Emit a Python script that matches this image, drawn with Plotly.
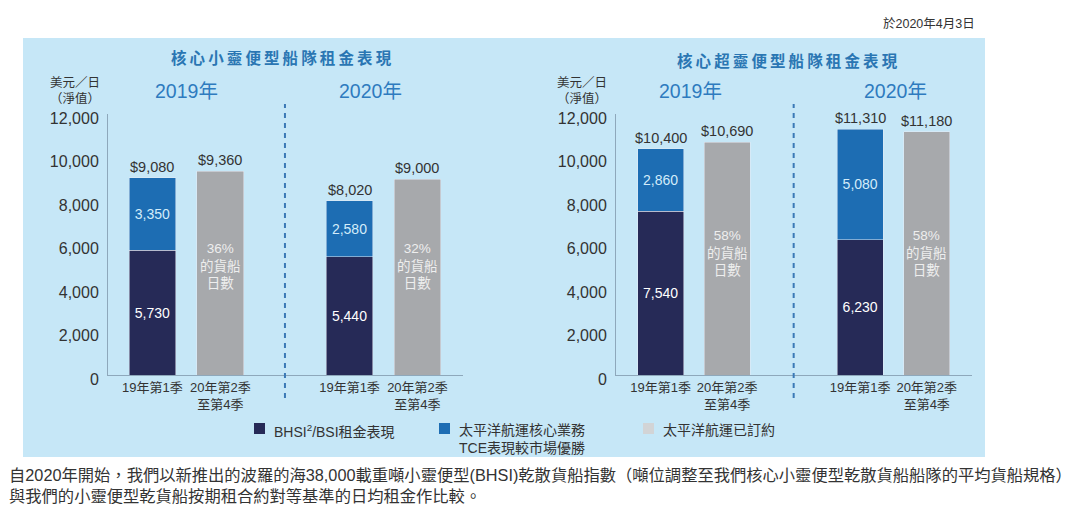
import plotly.graph_objects as go

# data (US$/day, net)
periods = ["19年第1季", "20年第2季<br>至第4季"]
years = ["2019年", "2020年"]

small_bhsi = [5730, 5440]          # BHSI/BSI market rate
small_outperf = [3350, 2580]       # Pacific Basin outperformance
small_booked = [9360, 9000]        # Pacific Basin booked
small_booked_pct = ["36%", "32%"]

super_bhsi = [7540, 6230]
super_outperf = [2860, 5080]
super_booked = [10690, 11180]
super_booked_pct = ["58%", "58%"]

series_names = ["BHSI<sup>2</sup>/BSI租金表現",
                "太平洋航運核心業務<br>TCE表現較市場優勝",
                "太平洋航運已訂約"]
panel_titles = ["核心小靈便型船隊租金表現", "核心超靈便型船隊租金表現"]

NAVY = "#262a57"
BLUE = "#1d6db3"
GREY = "#a7a9ac"
BG = "#c6e7f7"
TXT = "#333333"
FONT = "Liberation Sans, Noto Sans CJK TC, sans-serif"
W, H = 1080, 521
OFF = 8  # the page body adds an 8px margin, so pull everything back by that much


def px(x):
    return (x - OFF) / W


def py(y):
    return 1 - (y - OFF) / H


def spaced(s):
    return "\u2009".join(s)


fig = go.Figure()

panels = [
    dict(bhsi=small_bhsi, out=small_outperf, booked=small_booked, pct=small_booked_pct,
         xa="x", ya="y", gap=1.9, rng=[-0.654, 4.57], dom=[108, 463],
         title_x=281, title_y=58, year_shift=[0, -13], unit_x=102, label_y=5000),
    dict(bhsi=super_bhsi, out=super_outperf, booked=super_booked, pct=super_booked_pct,
         xa="x2", ya="y2", gap=2.0, rng=[-0.67, 4.68], dom=[616, 972],
         title_x=787, title_y=61, year_shift=[-3, 2], unit_x=609, label_y=5600),
]

shapes = [dict(type="rect", xref="paper", yref="paper", layer="below",
               x0=px(23), x1=px(985), y0=py(457), y1=py(38),
               fillcolor=BG, line=dict(width=0))]
annotations = []

for i, p in enumerate(panels):
    g = p["gap"]
    pos_a = [0, 1 + g]        # first bar of each year
    pos_b = [1, 2 + g]        # second bar of each year
    totals = [a + b for a, b in zip(p["bhsi"], p["out"])]

    fig.add_trace(go.Bar(x=pos_a, y=p["bhsi"], xaxis=p["xa"], yaxis=p["ya"],
                         marker_color=NAVY, width=0.69, name=series_names[0],
                         text=[f"{v:,}" for v in p["bhsi"]], textposition="inside",
                         insidetextanchor="middle", constraintext="none",
                         textfont=dict(color="white", size=14), hoverinfo="y"))
    fig.add_trace(go.Bar(x=pos_a, y=p["out"], xaxis=p["xa"], yaxis=p["ya"],
                         marker_color=BLUE, width=0.69, name=series_names[1],
                         text=[f"{v:,}" for v in p["out"]], textposition="inside",
                         insidetextanchor="middle", constraintext="none",
                         textfont=dict(color="#d3ecfa", size=14), hoverinfo="y"))
    fig.add_trace(go.Bar(x=pos_b, y=p["booked"], xaxis=p["xa"], yaxis=p["ya"],
                         marker_color=GREY, width=0.69, name=series_names[2],
                         textposition="none", hoverinfo="y"))

    # grey bar captions
    for xv, pc in zip(pos_b, p["pct"]):
        annotations.append(dict(xref=p["xa"], yref=p["ya"], x=xv, y=p["label_y"],
                                xanchor="center", yanchor="middle",
                                text=f"{pc}<br>的貨船<br>日數", showarrow=False,
                                font=dict(color="#eeeeee", size=13.5)))

    # totals above bars
    for xv, v in zip(pos_a + pos_b, totals + p["booked"]):
        annotations.append(dict(xref=p["xa"], yref=p["ya"], x=xv, y=v,
                                text=f"${v:,}", showarrow=False,
                                xanchor="center", yanchor="bottom",
                                yshift=1, font=dict(color=TXT, size=14.5)))

    # year headings
    for k, yr in enumerate(years):
        annotations.append(dict(xref=p["xa"], yref="paper",
                                x=(pos_a[k] + pos_b[k]) / 2, y=py(91),
                                xanchor="center", yanchor="middle",
                                xshift=p["year_shift"][k], text=yr, showarrow=False,
                                font=dict(color="#2e7bbf", size=19.5)))

    # panel title
    annotations.append(dict(xref="paper", yref="paper", x=px(p["title_x"]), y=py(p["title_y"]),
                            xanchor="center", yanchor="middle",
                            text="<b>" + spaced(panel_titles[i]) + "</b>", showarrow=False,
                            font=dict(color="#2a76b3", size=15.5)))

    # unit label
    annotations.append(dict(xref="paper", yref="paper", x=px(p["unit_x"]), y=py(91),
                            xanchor="right", yanchor="middle", align="right",
                            text="美元／日<br>（淨值）",
                            showarrow=False, font=dict(color=TXT, size=12.5)))

    # dashed year divider
    mid = (pos_b[0] + pos_a[1]) / 2
    shapes.append(dict(type="line", xref=p["xa"], yref="paper", x0=mid, x1=mid,
                       y0=py(398), y1=py(104),
                       line=dict(color="#3b79b6", width=2, dash="5px,5px")))

    axis_x = dict(domain=[px(p["dom"][0]), px(p["dom"][1])], range=p["rng"],
                  tickvals=[pos_a[0], pos_b[0], pos_a[1], pos_b[1]],
                  ticktext=periods * 2, showline=True, linecolor="#8ea8bb",
                  showgrid=False, zeroline=False, ticks="", automargin=False,
                  tickfont=dict(color=TXT, size=13), fixedrange=True)
    axis_y = dict(domain=[py(375), py(114)], range=[0, 12000], dtick=2000,
                  tickformat=",", showline=True, linecolor="#8ea8bb",
                  showgrid=False, zeroline=False, ticks="", automargin=False,
                  ticklabelstandoff=5, ticklabelshift=4,
                  tickfont=dict(color=TXT, size=16), fixedrange=True)
    if i == 0:
        fig.update_layout(xaxis=dict(axis_x, anchor="y"), yaxis=dict(axis_y, anchor="x"))
    else:
        fig.update_layout(xaxis2=dict(axis_x, anchor="y2"), yaxis2=dict(axis_y, anchor="x2"))

# hand-made legend
legend_x = [254, 439, 643]
for name, color, lx in zip(series_names, [NAVY, BLUE, "#d2d4d6"], legend_x):
    shapes.append(dict(type="rect", xref="paper", yref="paper",
                       x0=px(lx), x1=px(lx + 11), y0=py(434), y1=py(423),
                       fillcolor=color, line=dict(width=0)))
    annotations.append(dict(xref="paper", yref="paper", x=px(lx + 18), y=py(420),
                            xanchor="left", yanchor="top", align="left",
                            text=name, showarrow=False,
                            font=dict(color=TXT, size=14)))

# date stamp and footnote text
annotations.append(dict(xref="paper", yref="paper", x=px(977), y=py(23),
                        xanchor="right", yanchor="middle",
                        text="於2020年4月3日", showarrow=False,
                        font=dict(color=TXT, size=12.5)))
annotations.append(dict(xref="paper", yref="paper", x=px(7), y=py(485),
                        xanchor="left", yanchor="middle", align="left", showarrow=False,
                        text="自2020年開始，我們以新推出的波羅的海38,000載重噸小靈便型(BHSI)乾散貨船指數"
                             "（噸位調整至我們核心小靈便型乾散貨船船隊的平均貨船規格）<br>"
                             "與我們的小靈便型乾貨船按期租合約對等基準的日均租金作比較。",
                        font=dict(color=TXT, size=16.3)))

fig.update_layout(
    width=W, height=H, barmode="stack", showlegend=False,
    margin=dict(l=0, r=0, t=0, b=0, pad=0, autoexpand=False),
    paper_bgcolor="white", plot_bgcolor="rgba(0,0,0,0)",
    font=dict(family=FONT, color=TXT),
    shapes=shapes, annotations=annotations,
)

fig.write_html("out.html")
